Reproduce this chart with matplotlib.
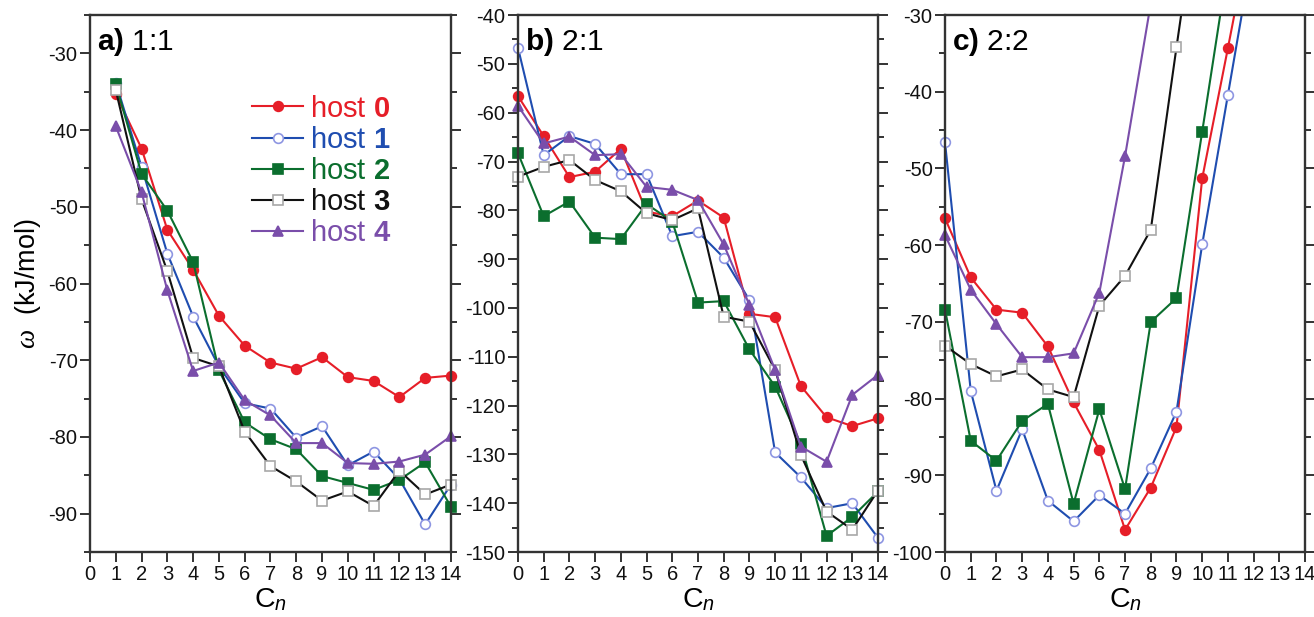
import matplotlib
matplotlib.use("Agg")
import matplotlib.pyplot as plt
from matplotlib.patches import Rectangle
from matplotlib.ticker import MultipleLocator

plt.rcParams.update({
    "font.family": ["Liberation Sans", "DejaVu Sans"],
    "axes.unicode_minus": False,
    "mathtext.fontset": "custom",
    "mathtext.rm": "Liberation Sans",
    "mathtext.bf": "Liberation Sans:bold",
    "mathtext.it": "Liberation Serif:italic",
    "mathtext.cal": "Liberation Sans:italic",
})

# ---- data: binding energy omega (kJ/mol) vs chain length C_n ----
hosts = ["0", "1", "2", "3", "4"]

cn_a = list(range(1, 15))
a_host0 = [-35.3, -42.4, -53.0, -58.2, -64.2, -68.1, -70.3, -71.1, -69.6, -72.2, -72.7, -74.8, -72.3, -72.0]
a_host1 = [-33.8, -44.8, -56.1, -64.3, -70.8, -75.6, -76.3, -80.1, -78.6, -83.7, -81.9, -85.5, -91.4, -86.2]
a_host2 = [-34.0, -45.7, -50.5, -57.2, -71.3, -78.1, -80.3, -81.6, -85.1, -86.0, -86.9, -85.6, -83.3, -89.1]
a_host3 = [-34.8, -49.0, -58.4, -69.7, -70.8, -79.3, -83.8, -85.8, -88.3, -87.1, -89.0, -84.4, -87.5, -86.2]
a_host4 = [-39.5, -48.1, -60.9, -71.4, -70.3, -75.2, -77.2, -80.8, -80.8, -83.4, -83.5, -83.2, -82.3, -79.9]

cn_b = list(range(0, 15))
b_host0 = [-56.6, -64.8, -73.2, -72.1, -67.4, -80.3, -81.2, -78.0, -81.5, -101.2, -101.9, -116.0, -122.4, -124.2, -122.6]
b_host1 = [-46.7, -68.7, -64.8, -66.4, -72.6, -72.6, -85.3, -84.4, -89.7, -98.4, -129.6, -134.7, -141.0, -140.0, -147.1]
b_host2 = [-68.3, -81.2, -78.2, -85.6, -85.9, -78.7, -82.3, -98.9, -98.6, -108.5, -116.1, -127.9, -146.7, -142.8, -137.6]
b_host3 = [-73.1, -71.1, -69.7, -73.8, -76.1, -80.6, -82.0, -79.6, -101.8, -102.8, -112.7, -130.1, -141.7, -145.4, -137.4]
b_host4 = [-58.6, -66.3, -64.9, -68.7, -68.5, -75.2, -75.8, -77.9, -87.0, -99.4, -112.7, -128.4, -131.5, -117.8, -113.7]

c_host0 = [-56.5, -64.2, -68.4, -68.8, -73.2, -80.5, -86.7, -97.1, -91.6, -83.7, -51.3, -34.3, -17.0]
c_host1 = [-46.6, -79.0, -92.0, -84.0, -93.3, -96.0, -92.6, -95.0, -89.1, -81.7, -59.9, -40.4, -21.0]
c_host2 = [-68.4, -85.5, -88.1, -82.9, -80.7, -93.7, -81.4, -91.8, -70.0, -66.9, -45.2, -23.5]
c_host3 = [-73.1, -75.5, -77.1, -76.2, -78.8, -79.8, -67.9, -64.0, -58.0, -34.2, -11.0]
c_host4 = [-58.7, -65.8, -70.3, -74.6, -74.6, -74.1, -66.2, -48.4, -28.5]

# ---- series styles ----
line_colors = ["#e61e28", "#1f4db0", "#0b6e2e", "#111111", "#7a4eaa"]
markers = ["o", "o", "s", "s", "^"]
face_colors = ["#e61e28", "white", "#0b6e2e", "white", "#7a4eaa"]
edge_colors = ["#e61e28", "#8e96e2", "#0b6e2e", "#a8a8a8", "#7a4eaa"]
marker_sizes = [7.0, 7.0, 6.6, 6.6, 7.2]

spine_color = "#333333"

fig = plt.figure(figsize=(13.14, 6.17), dpi=100)

panels = [
    dict(rect=[0.0685, 0.1053, 0.2747, 0.8703], ylim=(-95, -25),
         xs=[cn_a] * 5, ys=[a_host0, a_host1, a_host2, a_host3, a_host4],
         tag="a)", ratio="1:1"),
    dict(rect=[0.3942, 0.1053, 0.2740, 0.8703], ylim=(-150, -40),
         xs=[cn_b] * 5, ys=[b_host0, b_host1, b_host2, b_host3, b_host4],
         tag="b)", ratio="2:1"),
    dict(rect=[0.7192, 0.1053, 0.2740, 0.8703], ylim=(-100, -30),
         xs=None, ys=[c_host0, c_host1, c_host2, c_host3, c_host4],
         tag="c)", ratio="2:2"),
]

axes = []
for p in panels:
    ax = fig.add_axes(p["rect"])
    axes.append(ax)
    # clip only vertically so edge markers stay whole
    clip = Rectangle((-0.1, 0.0), 1.2, 1.0, transform=ax.transAxes,
                     facecolor="none", edgecolor="none")
    for i, yv in enumerate(p["ys"]):
        xv = p["xs"][i] if p["xs"] is not None else list(range(len(yv)))
        ln, = ax.plot(xv, yv, color=line_colors[i], lw=1.5,
                      marker=markers[i], ms=marker_sizes[i],
                      mfc=face_colors[i], mec=edge_colors[i], mew=1.2,
                      label=r"host $\mathbf{%s}$" % hosts[i])
        ln.set_clip_path(clip)

    ax.set_xlim(0, 14)
    ax.set_ylim(*p["ylim"])
    ax.set_xticks(range(0, 15))
    ax.yaxis.set_major_locator(MultipleLocator(10))
    ax.yaxis.set_minor_locator(MultipleLocator(5))
    ax.tick_params(axis="both", which="both", direction="out", right=True, top=False,
                   colors=spine_color, labelcolor="#111111", width=1.4, labelsize=14.5)
    ax.tick_params(axis="both", which="major", length=7, pad=2)
    ax.tick_params(axis="both", which="minor", length=4)
    for s in ax.spines.values():
        s.set_color(spine_color)
        s.set_linewidth(1.7)

    ax.set_xlabel(r"C$_{\mathcal{n}}$", fontsize=20.5, labelpad=2)
    ax.text(0.02, 0.979, r"$\mathbf{%s}$ %s" % (p["tag"], p["ratio"]),
            transform=ax.transAxes, ha="left", va="top", fontsize=21.5)

axes[0].set_ylabel(r"$\mathit{\omega}$  (kJ/mol)", fontsize=19.5, labelpad=4)

leg = axes[0].legend(loc="upper left", bbox_to_anchor=(0.45, 0.852), frameon=False,
                     fontsize=21, labelcolor="linecolor", handlelength=1.75,
                     handletextpad=0.22, labelspacing=0.11, borderpad=0,
                     borderaxespad=0)

fig.savefig("out.png", dpi=100)
